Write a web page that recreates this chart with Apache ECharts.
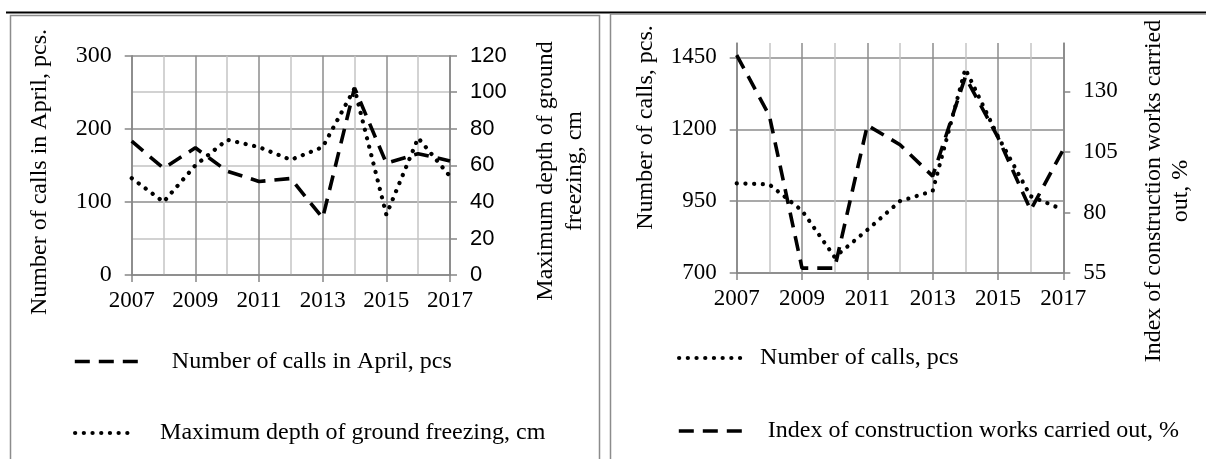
<!DOCTYPE html>
<html>
<head>
<meta charset="utf-8">
<script src="https://cdn.jsdelivr.net/npm/echarts@6/dist/echarts.min.js"></script>
<style>
  html, body { margin: 0; padding: 0; background: #fff; }
  #c { width: 1206px; height: 459px; }
</style>
</head>
<body>
<div id="c"></div>
<script>
// ---------- data ----------
const years = ['2007','2008','2009','2010','2011','2012','2013','2014','2015','2016','2017'];
// left chart
const callsApril = [183, 146, 174, 142, 128, 132, 78, 256, 153, 166, 156];
const freezeDepth = [53, 40, 60, 74, 70, 63, 70, 102, 33, 75, 54];
// right chart
const callsTotal = [1012, 1008, 917, 755, 850, 950, 985, 1410, 1175, 967, 920];
const constructionIndex = [145, 120, 57, 57, 116, 108, 95, 136, 111, 81, 106];
// tick labels
const callsTicks = [700, 950, 1200, 1450];
const indexTicks = [55, 80, 105, 130];

const nameCallsApril = 'Number of calls in April, pcs';
const nameFreeze = 'Maximum depth of ground freezing, cm';
const nameCalls = 'Number of calls, pcs';
const nameIndex = 'Index of construction works carried out, %';

// ---------- styles ----------
const SERIF = "Liberation Serif";
const SANS = "Liberation Sans";
const AX = '#868686';
const MAJ = '#8c8c8c';
const MIN = '#c4c4c4';
const DASH = { color: '#000', width: 3.6, type: [15, 9], cap: 'butt' };
const DOT = { color: '#000', width: 4.2, type: [0.1, 8.6], cap: 'round' };
const plain = v => String(v);

function xAx(gi) {
  return {
    type: 'category', gridIndex: gi, data: years, boundaryGap: false,
    axisLine: { lineStyle: { color: AX, width: 1.5 } },
    axisTick: { interval: 1, length: 7, lineStyle: { color: AX, width: 1.5 } },
    axisLabel: { interval: 1, margin: 14, color: '#000', fontFamily: SERIF, fontSize: 23 },
    splitLine: { show: true, interval: 0, lineStyle: { color: [MAJ, MIN], width: 1.5 } }
  };
}

function legendItem(name, left, cy, w, pad, ls) {
  return {
    data: [name], left: left, top: cy - 12, padding: 0, orient: 'horizontal',
    itemWidth: w, itemHeight: 14,
    lineStyle: { type: ls.type, width: ls.width, cap: ls.cap, color: '#000' },
    itemStyle: { color: '#000', opacity: 0 },
    textStyle: { fontFamily: SERIF, fontSize: 24, lineHeight: 24, color: '#000', padding: [0, 0, 0, pad] },
    selectedMode: false
  };
}

function vText(text, x, y, lh) {
  return {
    type: 'text', x: x, y: y, rotation: Math.PI / 2, silent: true,
    style: { text: text, x: 0, y: 0, align: 'center', verticalAlign: 'middle',
             fontSize: 24, fontFamily: SERIF, fill: '#000', lineHeight: lh || 24 }
  };
}

const chart = echarts.init(document.getElementById('c'), null, { renderer: 'canvas' });
chart.setOption({
  animation: false,
  backgroundColor: '#fff',
  textStyle: { fontFamily: SERIF },
  grid: [
    { left: 131.7, top: 55.7, width: 318.3, height: 219.3, containLabel: false },
    { left: 736.7, top: 43, width: 326.6, height: 230, containLabel: false }
  ],
  xAxis: [xAx(0), xAx(1)],
  yAxis: [
    { type: 'value', gridIndex: 0, position: 'left', min: 0, max: 300, interval: 100,
      axisLine: { show: true, lineStyle: { color: AX, width: 1.5 } },
      axisTick: { show: true, length: 7, lineStyle: { color: AX, width: 1.5 } },
      axisLabel: { margin: 20, color: '#000', fontFamily: SERIF, fontSize: 24, formatter: plain },
      splitLine: { show: true, lineStyle: { color: MAJ, width: 1.5 } },
      minorTick: { show: false, splitNumber: 2 },
      minorSplitLine: { show: true, lineStyle: { color: MIN, width: 1.5 } } },
    { type: 'value', gridIndex: 0, position: 'right', min: 0, max: 120, interval: 20,
      axisLine: { show: true, lineStyle: { color: AX, width: 1.5 } },
      axisTick: { show: true, length: 7, lineStyle: { color: AX, width: 1.5 } },
      axisLabel: { margin: 20, color: '#000', fontFamily: SANS, fontSize: 22, formatter: plain },
      splitLine: { show: false } },
    { type: 'value', gridIndex: 1, position: 'left', min: 700, max: 1500,
      axisLine: { show: true, lineStyle: { color: AX, width: 1.5 } },
      axisTick: { show: true, length: 7, customValues: callsTicks, lineStyle: { color: AX, width: 1.5 } },
      axisLabel: { margin: 20, color: '#000', fontFamily: SERIF, fontSize: 23, customValues: callsTicks, formatter: plain },
      splitLine: { show: true, lineStyle: { color: MAJ, width: 1.5 } } },
    { type: 'value', gridIndex: 1, position: 'right', min: 55, max: 150,
      axisLine: { show: true, lineStyle: { color: AX, width: 1.5 } },
      axisTick: { show: true, length: 7, customValues: indexTicks, lineStyle: { color: AX, width: 1.5 } },
      axisLabel: { margin: 20, color: '#000', fontFamily: SERIF, fontSize: 23, customValues: indexTicks, formatter: plain },
      splitLine: { show: false } }
  ],
  legend: [
    legendItem(nameCallsApril, 73, 361.5, 72, 20, DASH),
    legendItem(nameFreeze, 73, 433, 60, 20, DOT),
    legendItem(nameCalls, 677, 358, 61, 15, DOT),
    legendItem(nameIndex, 677, 431, 68, 16, DASH)
  ],
  series: [
    { name: nameCallsApril, type: 'line', xAxisIndex: 0, yAxisIndex: 0, data: callsApril,
      symbol: 'none', lineStyle: DASH, itemStyle: { color: '#000' }, z: 3 },
    { name: nameFreeze, type: 'line', xAxisIndex: 0, yAxisIndex: 1, data: freezeDepth,
      symbol: 'none', lineStyle: DOT, itemStyle: { color: '#000' }, z: 3 },
    { name: nameCalls, type: 'line', xAxisIndex: 1, yAxisIndex: 2, data: callsTotal,
      symbol: 'none', lineStyle: DOT, itemStyle: { color: '#000' }, z: 3 },
    { name: nameIndex, type: 'line', xAxisIndex: 1, yAxisIndex: 3, data: constructionIndex,
      symbol: 'none', lineStyle: DASH, itemStyle: { color: '#000' }, z: 3 }
  ],
  graphic: [
    { type: 'rect', silent: true, z: -1, shape: { x: 6, y: 11.5, width: 1200, height: 2 }, style: { fill: '#000' } },
    { type: 'rect', silent: true, z: -1, shape: { x: 10.5, y: 15.5, width: 589, height: 520 }, style: { fill: 'none', stroke: '#8c8c8c', lineWidth: 1.5 } },
    { type: 'rect', silent: true, z: -1, shape: { x: 610.5, y: 14, width: 700, height: 520 }, style: { fill: 'none', stroke: '#8c8c8c', lineWidth: 1.5 } },
    vText('Number of calls in April, pcs.', 40, 172),
    vText('Maximum depth of ground\nfreezing, cm', 560, 171, 29),
    vText('Number of calls, pcs.', 646, 127.5),
    vText('Index of construction works carried\nout, %', 1167, 191, 27)
  ]
});
</script>
</body>
</html>
